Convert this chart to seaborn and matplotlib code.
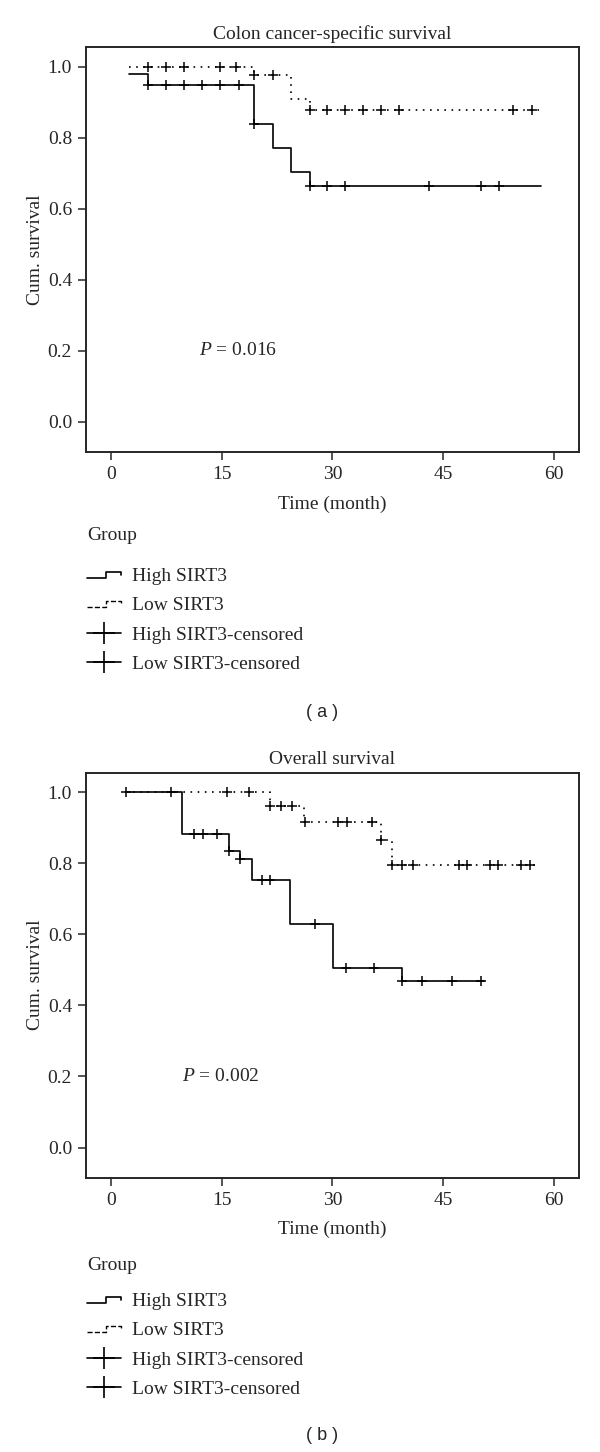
import numpy as np
import pandas as pd
import matplotlib
matplotlib.use("Agg")
import matplotlib.pyplot as plt
import seaborn as sns
from matplotlib.lines import Line2D
from matplotlib.legend_handler import HandlerBase

# Panel (a): colon cancer-specific survival
a_high_time = [2.5, 5.0, 19.4, 22.0, 24.4, 27.0, 58.2]
a_high_surv = [0.979, 0.947, 0.837, 0.772, 0.703, 0.663, 0.663]
a_high_cens = [5.0, 7.5, 9.9, 12.4, 14.8, 17.3, 19.4, 27.0, 29.3, 31.7, 43.1, 50.1, 52.5]
a_low_time = [2.5, 19.4, 24.4, 27.0, 58.0]
a_low_surv = [1.0, 0.977, 0.910, 0.878, 0.878]
a_low_cens = [5.0, 7.5, 9.9, 14.8, 16.9, 19.4, 21.9, 27.0, 29.3, 31.7, 34.2, 36.6, 39.0, 54.4, 57.0]

# Panel (b): overall survival
b_high_time = [2.0, 9.7, 16.0, 17.5, 19.1, 24.3, 30.1, 39.4, 50.6]
b_high_surv = [1.0, 0.883, 0.835, 0.812, 0.754, 0.629, 0.506, 0.470, 0.470]
b_high_cens = [2.0, 8.2, 11.2, 12.5, 14.4, 16.0, 17.5, 20.5, 21.6, 27.6, 31.9, 35.7,
               39.4, 42.1, 46.2, 50.1]
b_low_time = [2.0, 21.6, 26.1, 36.6, 38.1, 57.5]
b_low_surv = [1.0, 0.962, 0.917, 0.866, 0.796, 0.796]
b_low_cens = [15.7, 18.7, 21.6, 23.1, 24.6, 26.3, 30.8, 32.0, 35.4, 36.6, 38.1, 39.4,
              40.9, 47.1, 48.3, 51.3, 52.4, 55.5, 56.8]

titles = ["Colon cancer-specific survival", "Overall survival"]
p_values = ["0.016", "0.002"]
p_xpos = [12.0, 9.6]
panel_tags = ["( a )", "( b )"]
group_labels = ["High SIRT3", "Low SIRT3", "High SIRT3-censored", "Low SIRT3-censored"]
x_ticks = [0, 15, 30, 45, 60]
y_ticks = [0.0, 0.2, 0.4, 0.6, 0.8, 1.0]

DOT = (0, (1, 3.3))

sns.set_style("ticks")
plt.rcParams["font.family"] = ["Liberation Serif", "DejaVu Serif"]
plt.rcParams["mathtext.fontset"] = "custom"
plt.rcParams["mathtext.rm"] = "Liberation Serif"
plt.rcParams["mathtext.it"] = "Liberation Serif:italic"
FS = 14


class StepHandler(HandlerBase):
    # little step glyph like the SPSS legend
    def create_artists(self, legend, orig_handle, xdescent, ydescent,
                       width, height, fontsize, trans):
        x0, y0 = -xdescent, -ydescent
        xm = x0 + 0.55 * width
        xs = [x0, xm, xm, x0 + width, x0 + width]
        ys = [y0 + 0.2 * height, y0 + 0.2 * height, y0 + 0.64 * height,
              y0 + 0.64 * height, y0 + 0.42 * height]
        line = Line2D(xs, ys, color="black", lw=orig_handle.get_linewidth(),
                      linestyle=orig_handle.get_linestyle())
        line.set_transform(trans)
        return [line]


def censor_y(cens, times, surv):
    idx = np.searchsorted(times, cens, side="right") - 1
    return np.asarray(surv)[idx]


def draw_panel(ax, high, low, title, pval, px):
    for (t, s, c), ls in [(low, DOT), (high, "-")]:
        df = pd.DataFrame({"time": t, "surv": s})
        sns.lineplot(data=df, x="time", y="surv", drawstyle="steps-post", color="black",
                     lw=1.2, linestyle=ls, estimator=None, sort=False, ax=ax)
        cdf = pd.DataFrame({"time": c, "surv": censor_y(c, t, s)})
        sns.scatterplot(data=cdf, x="time", y="surv", marker="+", s=60, color="black",
                        linewidth=1.1, ax=ax, zorder=3)

    ax.set_xlim(-3.36, 63.4)
    ax.set_ylim(-0.085, 1.055)
    ax.set_xticks(x_ticks)
    ax.set_yticks(y_ticks)
    ax.set_yticklabels([f"{v:.1f}" for v in y_ticks])
    ax.tick_params(direction="out", length=6, width=1.1, labelsize=FS, pad=4)
    for sp in ax.spines.values():
        sp.set_linewidth(1.4)
        sp.set_visible(True)
    ax.set_title(title, fontsize=FS, pad=6)
    ax.set_xlabel("Time (month)", fontsize=FS, labelpad=9)
    ax.set_ylabel("Cum. survival", fontsize=FS, labelpad=3)
    ax.text(px, 0.2, f"$P$ = {pval}", fontsize=FS, ha="left", va="center")


fig = plt.figure(figsize=(6, 14.52), dpi=100)
ax_a = fig.add_axes([0.1433, 0.6887, 0.8217, 0.2789])
ax_b = fig.add_axes([0.1433, 0.1889, 0.8217, 0.2789])

panels = [
    (ax_a, (a_high_time, a_high_surv, a_high_cens), (a_low_time, a_low_surv, a_low_cens)),
    (ax_b, (b_high_time, b_high_surv, b_high_cens), (b_low_time, b_low_surv, b_low_cens)),
]
leg_tops = [1 - 567 / 1452, 1 - 1292 / 1452]
group_y = [1 - 536 / 1452, 1 - 1266 / 1452]
tag_y = [1 - 712 / 1452, 1 - 1436 / 1452]

for i, (ax, high, low) in enumerate(panels):
    draw_panel(ax, high, low, titles[i], p_values[i], p_xpos[i])

    h_high = Line2D([], [], color="black", lw=1.2, linestyle="-")
    h_low = Line2D([], [], color="black", lw=1.0, linestyle=(0, (1, 2.2)))
    h_cens1 = Line2D([], [], color="black", lw=1.2, marker="+", markersize=16,
                     markeredgewidth=1.2)
    h_cens2 = Line2D([], [], color="black", lw=1.2, marker="+", markersize=16,
                     markeredgewidth=1.2)
    ax.legend([h_high, h_low, h_cens1, h_cens2], group_labels,
              handler_map={h_high: StepHandler(), h_low: StepHandler()},
              loc="upper left", bbox_to_anchor=(87 / 600, leg_tops[i]),
              bbox_transform=fig.transFigure, frameon=False, fontsize=FS,
              handlelength=1.75, handletextpad=0.55, labelspacing=0.61,
              borderpad=0, borderaxespad=0)
    fig.text(87 / 600, group_y[i], "Group", fontsize=FS, ha="left", va="center")
    fig.text(322 / 600, tag_y[i], panel_tags[i], fontsize=13, ha="center", va="center",
             family=["Liberation Sans", "DejaVu Sans"])

fig.savefig("out.png", dpi=100)
